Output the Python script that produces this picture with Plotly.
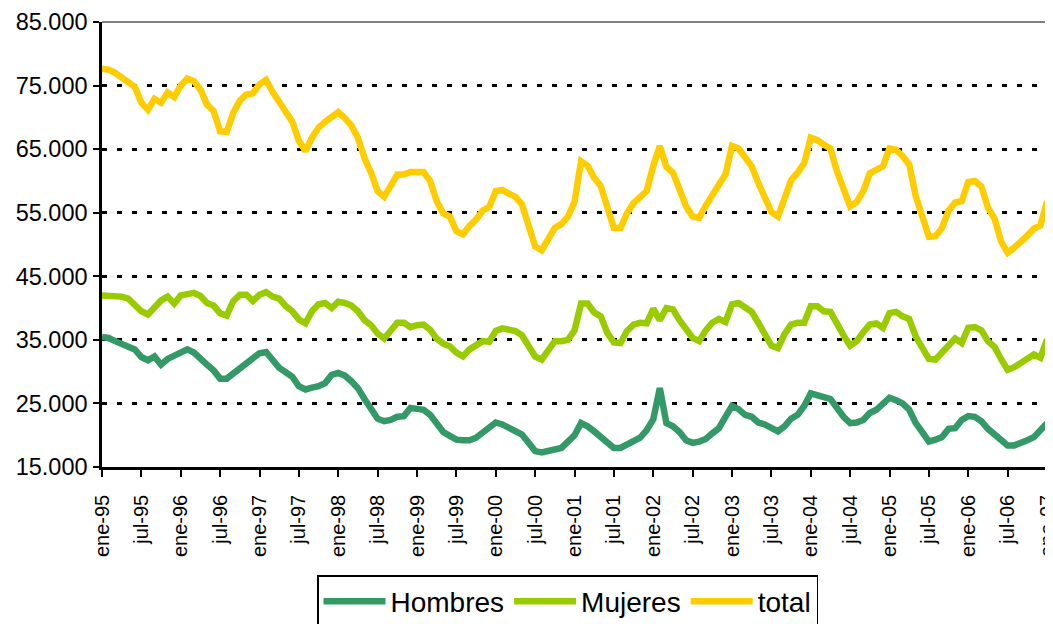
import plotly.graph_objects as go

meses = ["ene", "feb", "mar", "abr", "may", "jun", "jul", "ago", "sep", "oct", "nov", "dic"]
categorias = [f"{meses[i % 12]}-{(95 + i // 12) % 100:02d}" for i in range(145)]

hombres = [35470, 35300, 34800, 34300, 33900, 33500, 32300, 31800, 32400, 31100,
           32000, 32500, 32900, 33500, 33000, 32200, 31100, 30200, 28900, 28900,
           29700, 30400, 31400, 32300, 32900, 33100, 31800, 30600, 29900, 29200,
           27700, 27200, 27500, 27700, 28200, 29500, 29800, 29400, 28500, 27400,
           25700, 24000, 22600, 22200, 22400, 22900, 23000, 24300, 24100, 24000,
           23200, 21700, 20500, 19900, 19300, 19200, 19200, 19600, 20500, 21400,
           22000, 21700, 21200, 20800, 20100, 18800, 17500, 17300, 17500, 17700,
           18000, 19000, 20000, 21900, 21400, 20600, 19800, 18800, 18000, 18000,
           18500, 19000, 19600, 20800, 22500, 27400, 21900, 21400, 20500, 19200,
           18800, 19000, 19400, 20300, 21100, 22900, 24600, 24100, 23200, 22900,
           22000, 21700, 21000, 20600, 21400, 22600, 23200, 24600, 26600, 26200,
           26000, 25700, 24100, 22900, 21900, 22000, 22400, 23500, 24000, 25100,
           25900, 25500, 25000, 24000, 21900, 20500, 19000, 19300, 19700, 21000,
           21100, 22400, 23000, 22900, 22200, 21000, 20100, 19500, 18400, 18400,
           18700, 19200, 19700, 20800, 21900]

mujeres = [41980, 42000, 42000, 41800, 41500, 40600, 39500, 39000, 40300, 41200,
           41800, 40700, 42000, 42300, 42400, 41900, 40800, 40400, 39200, 38800,
           41100, 42100, 42100, 41100, 42100, 42500, 41800, 41500, 40300, 39500,
           38200, 37600, 39500, 40600, 40800, 40000, 41000, 40800, 40400, 39500,
           38100, 37300, 36000, 35200, 36600, 37700, 37700, 37000, 37300, 37400,
           36600, 35200, 34400, 34000, 33000, 32400, 33500, 34300, 34800, 34700,
           36400, 36800, 36700, 36400, 35700, 34000, 32400, 31900, 33500, 34800,
           34800, 35000, 36500, 40700, 40700, 39300, 38700, 36100, 34600, 34500,
           36400, 37400, 37700, 37600, 39900, 38100, 40000, 39800, 38100, 36600,
           35300, 34800, 36500, 37700, 38300, 37800, 40600, 40800, 40200, 39400,
           37700, 35900, 34100, 33700, 35900, 37400, 37700, 37700, 40300, 40300,
           39500, 39400, 37400, 35700, 34100, 34800, 36200, 37400, 37600, 36900,
           39200, 39400, 38700, 38300, 35500, 33500, 32000, 31900, 33100, 34300,
           35200, 34500, 36900, 37000, 36500, 34800, 33900, 32000, 30300, 30700,
           31400, 32300, 32700, 32200, 35100]

total = [77650, 77500, 77000, 76300, 75600, 74800, 72300, 71200, 72900, 72300,
         73900, 73200, 75000, 76100, 75700, 74400, 72000, 71000, 67800, 67700,
         70700, 72600, 73600, 73800, 75200, 75900, 74000, 72400, 70700, 69300,
         66300, 64700, 66800, 68400, 69300, 70000, 70800, 69900, 68700, 66800,
         63600, 61300, 58400, 57500, 59300, 61000, 61000, 61400, 61400, 61400,
         60000, 56800, 54900, 54400, 52100, 51600, 52900, 53900, 55300, 55900,
         58400, 58600, 58000, 57500, 56300, 53200, 49700, 49100, 51000, 52600,
         53200, 54400, 56700, 63100, 62400, 60500, 59200, 55500, 52600, 52600,
         54900, 56500, 57400, 58400, 62400, 65500, 62200, 61300, 58700, 56000,
         54400, 54200, 56100, 58000, 59400, 61000, 65500, 65100, 63500, 62300,
         59700, 57600, 55100, 54400, 57400, 60100, 61300, 62800, 66800, 66400,
         65700, 65100, 61500, 58700, 56000, 56700, 58400, 61200, 61700, 62300,
         65100, 64900, 63900, 62600, 57600, 54200, 51200, 51300, 52600, 55300,
         56600, 56800, 59800, 60000, 59100, 55800, 54100, 50500, 48700, 49500,
         50300, 51400, 52500, 53000, 56800]

y_ticks = [15000, 25000, 35000, 45000, 55000, 65000, 75000, 85000]
y_labels = ["15.000", "25.000", "35.000", "45.000", "55.000", "65.000", "75.000", "85.000"]
x_tick_idx = list(range(0, 145, 6))

series = [("Hombres", hombres, "#339966"),
          ("Mujeres", mujeres, "#99CC00"),
          ("total", total, "#FFCC00")]

x_idx = list(range(145))
fig = go.Figure()
for name, vals, col in series:
    fig.add_trace(go.Scatter(x=x_idx, y=vals, mode="lines", name=name,
                             line=dict(color=col, width=6.5)))

# the page body has an 8px margin, so the figure is placed 8px in from the corner;
# the figure is made a little wider so the last x label is not clipped by the svg
fig.update_layout(
    width=1053, height=616,
    margin=dict(l=94, r=14, t=14, b=157, autoexpand=False),
    paper_bgcolor="white", plot_bgcolor="white",
    font=dict(family="Liberation Sans, Arial, sans-serif", color="black"),
    showlegend=True,
    legend=dict(orientation="h", x=0.4926, xanchor="center",
                yref="container", y=0.0795, yanchor="top",
                bordercolor="black", borderwidth=1.5, font=dict(size=28),
                itemwidth=62, traceorder="normal", bgcolor="white"),
    shapes=[
        dict(type="line", xref="paper", yref="paper", x0=0, x1=1, y0=1, y1=1,
             line=dict(color="#808080", width=2), layer="below"),
        dict(type="line", xref="paper", yref="paper", x0=1, x1=1, y0=0, y1=1,
             line=dict(color="#808080", width=2), layer="below"),
    ],
)
fig.update_xaxes(
    range=[0, 144], tickmode="array", tickvals=x_tick_idx,
    ticktext=[categorias[i] for i in x_tick_idx], tickangle=-90,
    showgrid=False, zeroline=False, showline=True, linecolor="black", linewidth=2.5,
    ticks="outside", ticklen=7, tickwidth=2, tickcolor="black",
    tickfont=dict(size=20), ticklabelstandoff=10, ticklabeloverflow="allow",
    automargin=False,
)
fig.update_yaxes(
    range=[15000, 85000], tickmode="array", tickvals=y_ticks, ticktext=y_labels,
    showgrid=True, gridcolor="black", gridwidth=2.5, griddash="5px,10px",
    zeroline=False, showline=True, linecolor="black", linewidth=2.5,
    ticks="outside", ticklen=6, tickwidth=2, tickcolor="black",
    tickfont=dict(size=23.5), ticklabelstandoff=1, automargin=False,
)

fig.write_html("out.html")
